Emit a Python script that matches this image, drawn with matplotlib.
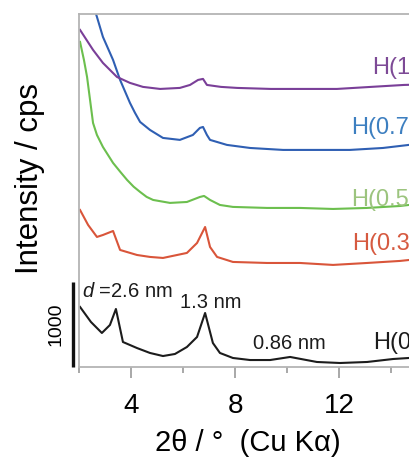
import matplotlib
matplotlib.use('Agg')
import matplotlib.pyplot as plt

plt.rcParams['font.family'] = ['Liberation Sans', 'DejaVu Sans']
plt.rcParams['mathtext.fontset'] = 'custom'
plt.rcParams['mathtext.it'] = 'Liberation Sans:italic'
plt.rcParams['mathtext.rm'] = 'Liberation Sans'

# XRD patterns, stacked intensity (cps) against 2theta (deg, Cu Ka)
tt_h0 = [2.04, 2.46, 2.88, 3.19, 3.42, 3.69, 4.23, 4.73, 5.23, 5.69, 6.15, 6.54,
         6.85, 7.15, 7.42, 7.92, 8.58, 9.35, 10.12, 11.15, 12.04, 13.08, 14.08, 14.69, 15.0]
cps_h0 = [706, 529, 400, 494, 682, 294, 223, 165, 129, 153, 235, 353,
          635, 282, 165, 106, 82, 82, 118, 59, 47, 59, 94, 106, 110]

tt_h03 = [2.04, 2.35, 2.69, 2.92, 3.31, 3.58, 4.23, 4.73, 5.23, 6.15, 6.54, 6.85,
          7.04, 7.31, 7.92, 9.23, 10.5, 11.77, 13.08, 14.35, 14.69, 15.0]
cps_h03 = [1846, 1670, 1529, 1552, 1599, 1376, 1317, 1294, 1282, 1341, 1458, 1646,
           1411, 1294, 1235, 1223, 1223, 1200, 1223, 1247, 1258, 1260]

tt_h05 = [2.04, 2.19, 2.31, 2.54, 2.69, 2.92, 3.31, 3.6, 3.85, 4.1, 4.35, 4.6, 4.85,
          5.5, 6.15, 6.65, 6.81, 7.04, 7.42, 7.92, 9.23, 10.5, 11.77, 13.08, 14.35,
          14.69, 15.0]
cps_h05 = [3822, 3610, 3410, 2869, 2728, 2587, 2399, 2290, 2199, 2120, 2058, 2000, 1964,
           1929, 1940, 1999, 2011, 1964, 1905, 1882, 1870, 1870, 1858, 1870, 1893,
           1905, 1910]

tt_h07 = [2.42, 2.69, 2.92, 3.31, 3.58, 3.96, 4.15, 4.35, 4.73, 5.23, 5.88, 6.38, 6.65,
          6.77, 6.92, 7.04, 7.69, 8.58, 9.85, 11.15, 12.42, 13.69, 14.69, 15.0]
cps_h07 = [4375, 4116, 3881, 3610, 3375, 3105, 2990, 2881, 2787, 2693, 2670, 2728, 2811,
           2822, 2728, 2670, 2611, 2575, 2552, 2552, 2552, 2575, 2611, 2620]

tt_h1 = [2.04, 2.54, 2.92, 3.46, 3.96, 4.46, 5.12, 5.88, 6.27, 6.58, 6.77, 6.92,
         7.46, 8.08, 9.38, 10.65, 11.92, 13.23, 14.5, 15.0]
cps_h1 = [3963, 3728, 3575, 3410, 3340, 3293, 3269, 3281, 3316, 3375, 3387, 3316,
          3293, 3281, 3269, 3269, 3269, 3293, 3316, 3320]

series = [
    (tt_h0, cps_h0, '#1c1c1c'),
    (tt_h03, cps_h03, '#d9553a'),
    (tt_h05, cps_h05, '#6cbf4e'),
    (tt_h07, cps_h07, '#2f5fb3'),
    (tt_h1, cps_h1, '#7a3f98'),
]

# sample labels: text, 2theta, cps, colour
labels = [
    ('H(0)', 13.31, 282, '#1c1c1c'),
    ('H(0.3)', 12.50, 1446, '#d65a40'),
    ('H(0.5)', 12.46, 1964, '#9cc47e'),
    ('H(0.7)', 12.46, 2811, '#3d7fc0'),
    ('H(1)', 13.27, 3516, '#7d4a96'),
]

# d-spacing annotations on the H(0) pattern
d_notes = [
    (r'$d$ =2.6 nm', 2.12, 882),
    ('1.3 nm', 5.88, 764),
    ('0.86 nm', 8.69, 282),
]

scale_cps = 1000

fig = plt.figure(figsize=(4.09, 4.59), dpi=100)
ax = fig.add_axes([79 / 409, 92 / 459, 338 / 409, 353 / 459])

for tt, cps, col in series:
    ax.plot(tt, cps, color=col, lw=1.5)

for txt, x, y, col in labels:
    ax.text(x, y, txt, color=col, fontsize=17, ha='left', va='center', clip_on=False)

for txt, x, y in d_notes:
    ax.text(x, y, txt, color='#1c1c1c', fontsize=14.5, ha='left', va='center')

# intensity scale bar
ax.plot([1.77, 1.77], [0, scale_cps], color='#111111', lw=2.4, clip_on=False,
        solid_capstyle='butt')
ax.text(1.1, scale_cps / 2, str(scale_cps), rotation=90, fontsize=14,
        ha='center', va='center')

ax.set_xlim(2, 15)
ax.set_ylim(0, 4150)
ax.set_yticks([])
ax.set_xticks([4, 8, 12])
ax.set_xticks([2, 6, 10, 14], minor=True)
ax.tick_params(axis='x', which='major', length=8, width=1.2, color='#9a9a9a',
               labelsize=20, pad=11)
ax.tick_params(axis='x', which='minor', length=4, width=1.2, color='#9a9a9a')

for side in ['left', 'top', 'bottom']:
    ax.spines[side].set_color('#b4b4b4')
    ax.spines[side].set_linewidth(1.3)
ax.spines['right'].set_visible(False)

ax.set_xlabel('2θ / °  (Cu Kα)', fontsize=21, labelpad=7)
fig.text(30 / 409, 1 - 178 / 459, 'Intensity / cps', rotation=90, fontsize=22.5,
         ha='center', va='center')

fig.savefig('out.png', dpi=100)
